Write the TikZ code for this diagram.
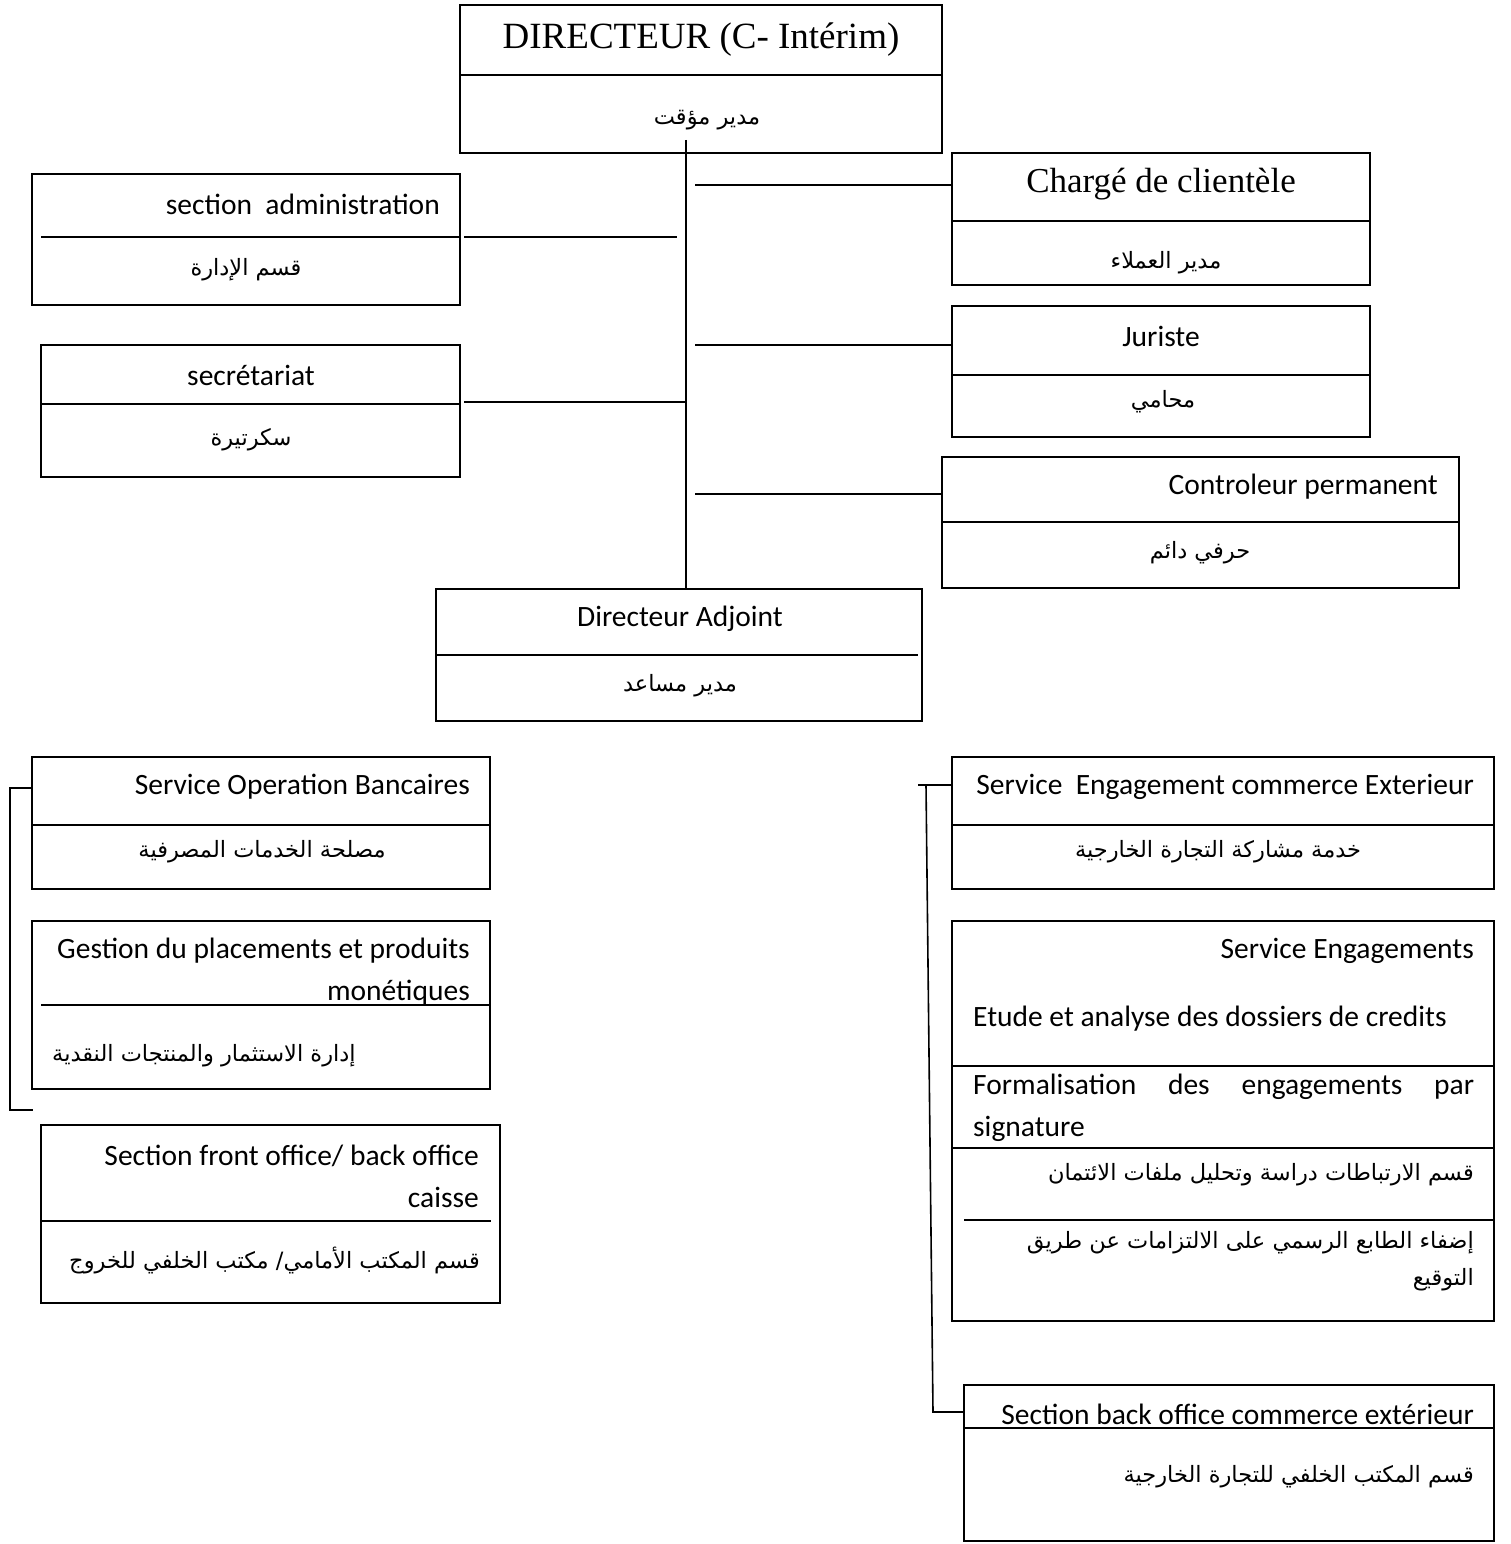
\documentclass[tikz,border=0pt]{standalone}
\usepackage{fontspec}
\setmainfont{Carlito}
\newfontfamily\tnr{Liberation Serif}
\newfontfamily\arabicfont[Script=Arabic]{DejaVu Sans}
\TeXXeTstate=1
\newcommand\artxt[1]{{\arabicfont\beginR #1\endR}}
\begin{document}
\begin{tikzpicture}[x=1pt,y=-1pt,
  box/.style={draw, line width=1.6pt, rectangle, inner sep=0pt, outer sep=0pt, anchor=north west},
  div/.style={line width=1.6pt},
  conn/.style={line width=1.6pt},
  lat/.style={inner sep=0pt, font=\fontsize{29.5}{42}\selectfont},
  ser/.style={inner sep=0pt, font=\tnr\fontsize{37}{44}\selectfont},
  ara/.style={inner sep=0pt, font=\fontsize{22.5}{37}\selectfont}]
\fill[white] (0,0) rectangle (1510,1544);
\path[use as bounding box] (0,0) rectangle (1510,1544);

% boxes
\node[box, minimum width=482pt, minimum height=148pt] (dir) at (460,5) {};
\node[box, minimum width=428pt, minimum height=131pt] (admin) at (32,174) {};
\node[box, minimum width=419pt, minimum height=132pt] (secr) at (41,345) {};
\node[box, minimum width=418pt, minimum height=132pt] (charge) at (952,153) {};
\node[box, minimum width=418pt, minimum height=131pt] (jur) at (952,306) {};
\node[box, minimum width=517pt, minimum height=131pt] (ctrl) at (942,457) {};
\node[box, minimum width=486pt, minimum height=132pt] (adj) at (436,589) {};
\node[box, minimum width=458pt, minimum height=132pt] (sob) at (32,757) {};
\node[box, minimum width=458pt, minimum height=168pt] (gest) at (32,921) {};
\node[box, minimum width=459pt, minimum height=178pt] (front) at (41,1125) {};
\node[box, minimum width=542pt, minimum height=132pt] (sece) at (952,757) {};
\node[box, minimum width=542pt, minimum height=400pt] (seng) at (952,921) {};
\node[box, minimum width=530pt, minimum height=156pt] (back) at (964,1385) {};

% dividers
\draw[div] (460,75) -- (942,75);
\draw[div] (41,237) -- (460,237);
\draw[div] (41,404) -- (460,404);
\draw[div] (952,221) -- (1370,221);
\draw[div] (952,375) -- (1370,375);
\draw[div] (942,522) -- (1459,522);
\draw[div] (436,655) -- (918,655);
\draw[div] (32,825) -- (490,825);
\draw[div] (41,1005) -- (490,1005);
\draw[div] (41,1221) -- (491,1221);
\draw[div] (952,825) -- (1494,825);
\draw[div] (952,1066) -- (1494,1066);
\draw[div] (952,1148) -- (1494,1148);
\draw[div] (964,1220) -- (1494,1220);
\draw[div] (964,1428) -- (1494,1428);

% connectors
\coordinate (trunkTop) at (686,140);
\draw[conn] (trunkTop) -- (trunkTop |- adj.north);
\coordinate (a1) at (677,237);
\draw[conn] ([xshift=4pt]a1 -| admin.east) -- (a1);
\coordinate (s1) at (686,402);
\draw[conn] ([xshift=4pt]s1 -| secr.east) -- (s1);
\coordinate (c1) at (695,185);
\draw[conn] (c1) -- (c1 -| charge.west);
\coordinate (j1) at (695,345);
\draw[conn] (j1) -- (j1 -| jur.west);
\coordinate (k1) at (695,494);
\draw[conn] (k1) -- (k1 -| ctrl.west);
\coordinate (lb1) at (10,788);
\coordinate (lb2) at (10,1110);
\coordinate (lb3) at (33,1110);
\draw[conn] (lb1 -| sob.west) -- (lb1) -- (lb2) -- (lb3);
\coordinate (rb0) at (918,785);
\draw[conn] (rb0) -- (rb0 -| sece.west);
\coordinate (rb1) at (926,785);
\coordinate (rb2) at (933,1412);
\draw[conn] (rb1) -- (rb2) -- (rb2 -| back.west);

% texts
\node[ser] (t1) at (701,40) {DIRECTEUR (C- Intérim)};
\node[ara] (t2) at (707,120) {\artxt{مدير مؤقت}};
\node[lat, anchor=east] (t3) at (440,204) {section~~administration};
\node[ara] (t4) at (246,270) {\artxt{قسم الإدارة}};
\node[lat] (t5) at (251,375) {secrétariat};
\node[ara] (t6) at (251,440) {\artxt{سكرتيرة}};
\node[ser, font=\tnr\fontsize{35}{40}\selectfont] (t7) at (1161,184) {Chargé de clientèle};
\node[ara] (t8) at (1166,263) {\artxt{مدير  العملاء}};
\node[lat] (t9) at (1161,336) {Juriste};
\node[ara] (t10) at (1163,402) {\artxt{محامي}};
\node[lat, anchor=east] (t11) at (1438,487) {Controleur permanent};
\node[ara] (t12) at (1200,553) {\artxt{حرفي دائم}};
\node[lat] (t13) at (680,619) {Directeur Adjoint};
\node[ara] (t14) at (680,686) {\artxt{مدير مساعد}};
\node[lat, anchor=east] (t15) at (470,787) {Service Operation Bancaires};
\node[ara] (t16) at (262,852) {\artxt{مصلحة الخدمات المصرفية}};
\node[lat, anchor=east, align=right] (t17) at (470,972) {Gestion du placements et produits\\monétiques};
\node[ara, anchor=west] (t18) at (52,1056) {\artxt{إدارة الاستثمار والمنتجات النقدية}};
\node[lat, anchor=east, align=right] (t19) at (479,1176) {Section front office/ back office\\caisse};
\node[ara, anchor=east] (t20) at (480,1260) {\artxt{قسم المكتب الأمامي/ مكتب الخلفي للخروج}};
\node[lat, anchor=east] (t21) at (1474,787) {Service~~Engagement commerce Exterieur};
\node[ara] (t22) at (1218,852) {\artxt{خدمة مشاركة التجارة الخارجية}};
\node[lat, anchor=east] (t23) at (1474,951) {Service Engagements};
\node[lat, anchor=west] (t24) at (973,1019) {Etude et analyse des dossiers de credits};
\node[lat, anchor=west] (t25) at (973,1087) {\makebox[501pt][s]{Formalisation des engagements par}};
\node[lat, anchor=west] (t26) at (973,1129) {signature};
\node[ara, anchor=east] (t27) at (1474,1175) {\artxt{قسم الارتباطات دراسة وتحليل ملفات الائتمان}};
\node[ara, anchor=east, align=right] (t28) at (1474,1261) {\artxt{إضفاء الطابع الرسمي على الالتزامات عن طريق}\\\artxt{التوقيع}};
\node[lat, anchor=east] (t29) at (1474,1414) {Section back office commerce extérieur};
\node[ara, anchor=east] (t30) at (1474,1477) {\artxt{قسم المكتب الخلفي للتجارة الخارجية}};
\end{tikzpicture}
\end{document}
